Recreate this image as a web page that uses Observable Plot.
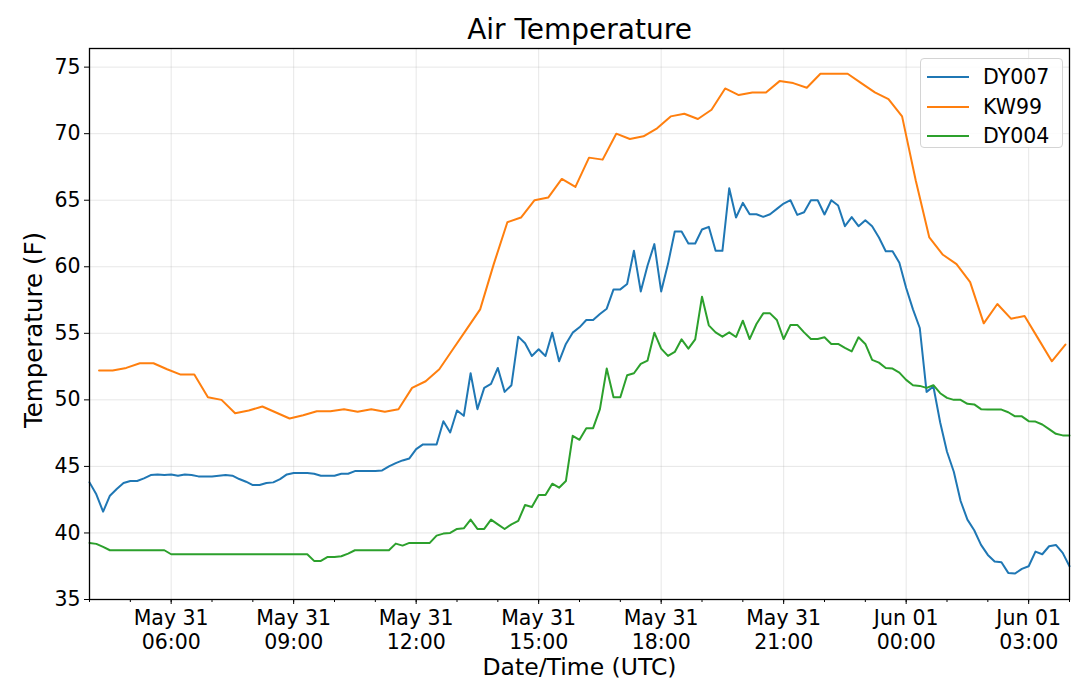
<!DOCTYPE html>
<html>
<head>
<meta charset="utf-8">
<script src="https://cdn.jsdelivr.net/npm/d3@7"></script>
<script src="https://cdn.jsdelivr.net/npm/@observablehq/plot@0.6"></script>
<style>
  body { margin: 0; background: #fff; font-family: "DejaVu Sans", sans-serif; }
  #wrap { position: relative; width: 1079px; height: 699px; overflow: hidden; }
  #legend { position: absolute; left: 920px; top: 58px; width: 143px; height: 90px;
            border: 1px solid #d4d4d4; border-radius: 4px; background: rgba(255,255,255,0.85);
            box-sizing: border-box; }
  .row { position: absolute; left: 0; width: 140px; height: 30px; }
  .swatch { position: absolute; left: 6px; width: 42px; top: 14px; height: 0; border-top: 2px solid; }
  .lbl { position: absolute; left: 62px; top: 3px; font-size: 20.5px; line-height: 24px; color: #000; }
</style>
</head>
<body>
<div id="wrap"><div id="chart"></div><div id="legend"></div></div>
<script>
// ---- data ----
const stations = ["DY007", "KW99", "DY004"];
const colors = ["#1f77b4", "#ff7f0e", "#2ca02c"];

// DY007 and DY004 sampled every 10 minutes from 2019-05-31 04:00 UTC
const sensorStart = "2019-05-31T04:00:00Z";
const sensorStepMin = 10;
const dy007 = [
  43.8,42.9,41.6,42.8,43.3,43.75,43.9,43.9,44.1,44.35,
  44.4,44.35,44.4,44.3,44.4,44.35,44.25,44.25,44.25,44.3,
  44.35,44.3,44.05,43.85,43.6,43.6,43.75,43.8,44.05,44.4,
  44.5,44.5,44.5,44.45,44.3,44.3,44.3,44.45,44.45,44.65,
  44.65,44.65,44.65,44.7,45.0,45.25,45.45,45.6,46.3,46.65,
  46.65,46.65,48.4,47.55,49.2,48.8,52.0,49.3,50.9,51.2,
  52.4,50.6,51.1,54.75,54.25,53.3,53.8,53.3,55.05,52.9,
  54.2,55.05,55.45,56.0,56.0,56.45,56.85,58.3,58.3,58.7,
  61.2,58.15,60.1,61.7,58.15,60.2,62.65,62.65,61.75,61.75,
  62.8,63.0,61.2,61.2,65.9,63.7,64.8,63.95,63.95,63.75,
  63.95,64.35,64.75,65.0,63.9,64.1,65.0,65.0,63.93,65.0,
  64.6,63.05,63.73,63.05,63.5,63.05,62.2,61.17,61.17,60.3,
  58.4,56.8,55.4,50.6,51.0,48.3,46.1,44.6,42.4,41.0,
  40.2,39.1,38.35,37.85,37.8,37.0,36.95,37.3,37.5,38.6,
  38.4,39.0,39.1,38.5,37.5
];
const dy004 = [
  39.25,39.18,38.95,38.7,38.7,38.7,38.7,38.7,38.7,38.7,
  38.7,38.7,38.4,38.4,38.4,38.4,38.4,38.4,38.4,38.4,
  38.4,38.4,38.4,38.4,38.4,38.4,38.4,38.4,38.4,38.4,
  38.4,38.4,38.4,37.9,37.9,38.2,38.2,38.25,38.45,38.7,
  38.7,38.7,38.7,38.7,38.7,39.2,39.05,39.25,39.25,39.25,
  39.25,39.8,39.95,40.0,40.3,40.35,41.0,40.3,40.3,41.0,
  40.65,40.3,40.65,40.9,42.1,41.95,42.85,42.85,43.7,43.4,
  43.9,47.3,47.0,47.87,47.87,49.3,52.35,50.2,50.2,51.85,
  52.0,52.7,52.95,55.05,53.85,53.3,53.6,54.55,53.85,54.55,
  57.75,55.6,55.07,54.75,55.07,54.72,55.95,54.57,55.7,56.5,
  56.5,56.0,54.57,55.63,55.63,55.07,54.57,54.57,54.7,54.2,
  54.2,53.9,53.64,54.7,54.2,53.0,52.8,52.4,52.35,52.05,
  51.5,51.1,51.05,50.9,51.1,50.5,50.15,50.0,50.0,49.7,
  49.66,49.3,49.27,49.27,49.27,49.07,48.76,48.76,48.4,48.37,
  48.15,47.8,47.45,47.33,47.33
];
// KW99 reports every 20 minutes from 04:14 UTC
const kw99Start = "2019-05-31T04:14:00Z";
const kw99StepMin = 20;
const kw99 = [
  52.2,52.2,52.4,52.75,52.75,52.3,51.9,51.9,50.2,50.0,
  49.0,49.2,49.5,49.05,48.6,48.85,49.15,49.15,49.3,49.1,
  49.3,49.1,49.3,50.9,51.4,52.3,53.8,55.3,56.8,60.2,
  63.35,63.7,65.0,65.2,66.6,66.0,68.2,68.05,70.0,69.6,
  69.8,70.4,71.3,71.5,71.1,71.8,73.4,72.9,73.1,73.1,
  73.95,73.8,73.45,74.5,74.5,74.5,73.8,73.1,72.6,71.3,
  66.5,62.2,60.9,60.2,58.85,55.75,57.2,56.1,56.3,54.6,
  52.9,54.15
];

const xDomain = ["2019-05-31T04:00:00Z", "2019-06-01T04:00:00Z"];
const yDomain = [35, 76.4];
const yTicks = [35, 40, 45, 50, 55, 60, 65, 70, 75];
const title = "Air Temperature";
const xLabel = "Date/Time (UTC)";
const yLabel = "Temperature (F)";

// ---- build table ----
function series(name, startIso, stepMin, values) {
  const t0 = new Date(startIso).getTime();
  return values.map((v, i) => ({station: name, time: new Date(t0 + i * stepMin * 60000), temp: v}));
}
const rows = [
  ...series("DY007", sensorStart, sensorStepMin, dy007),
  ...series("KW99", kw99Start, kw99StepMin, kw99),
  ...series("DY004", sensorStart, sensorStepMin, dy004)
];

const x0 = new Date(xDomain[0]), x1 = new Date(xDomain[1]);
const majorTicks = d3.utcHour.every(3).range(x0, x1).filter(d => d > x0);
const minorTicks = d3.utcHour.every(1).range(x0, new Date(+x1 + 1));
const fmtDay = d3.utcFormat("%b %d"), fmtTime = d3.utcFormat("%H:%M");

const chart = Plot.plot({
  width: 1079, height: 699,
  marginLeft: 89, marginRight: 10, marginTop: 48, marginBottom: 100,
  style: {fontFamily: "DejaVu Sans, sans-serif", background: "white", color: "#000"},
  x: {type: "utc", domain: [x0, x1]},
  y: {domain: yDomain},
  color: {domain: stations, range: colors},
  marks: [
    Plot.gridX({ticks: majorTicks, stroke: "#b0b0b0", strokeOpacity: 0.3, strokeWidth: 1}),
    Plot.gridY({ticks: yTicks, stroke: "#b0b0b0", strokeOpacity: 0.3, strokeWidth: 1}),
    Plot.line(rows, {x: "time", y: "temp", z: "station", stroke: "station", strokeWidth: 2}),
    Plot.frame({stroke: "#000", strokeWidth: 1.3}),
    Plot.axisY({ticks: yTicks, tickSize: 5, tickPadding: 4, fontSize: 20.5, label: null}),
    Plot.axisX({ticks: minorTicks, tickSize: 3, tickFormat: () => "", label: null}),
    Plot.axisX({ticks: majorTicks, tickSize: 5, tickFormat: () => "", label: null}),
    Plot.text(majorTicks, {x: d => d, frameAnchor: "bottom", text: d => fmtDay(d) + "\n" + fmtTime(d),
      lineAnchor: "top", dy: 8.5, fontSize: 20.5, lineHeight: 1.16}),
    Plot.text([title], {text: d => d, frameAnchor: "top", lineAnchor: "middle", dy: -18, fontSize: 28}),
    Plot.text([xLabel], {text: d => d, frameAnchor: "bottom", lineAnchor: "middle", dy: 67.5, fontSize: 23.5}),
    Plot.text([yLabel], {text: d => d, frameAnchor: "left", textAnchor: "middle", lineAnchor: "middle",
      rotate: -90, dx: -55.5, dy: 6, fontSize: 24.5})
  ]
});
document.getElementById("chart").appendChild(chart);

// legend
const legend = document.getElementById("legend");
stations.forEach((s, i) => {
  const row = document.createElement("div");
  row.className = "row";
  row.style.top = (3 + i * 29.5) + "px";
  row.innerHTML = `<div class="swatch" style="border-color:${colors[i]}"></div><div class="lbl">${s}</div>`;
  legend.appendChild(row);
});
</script>
</body>
</html>
